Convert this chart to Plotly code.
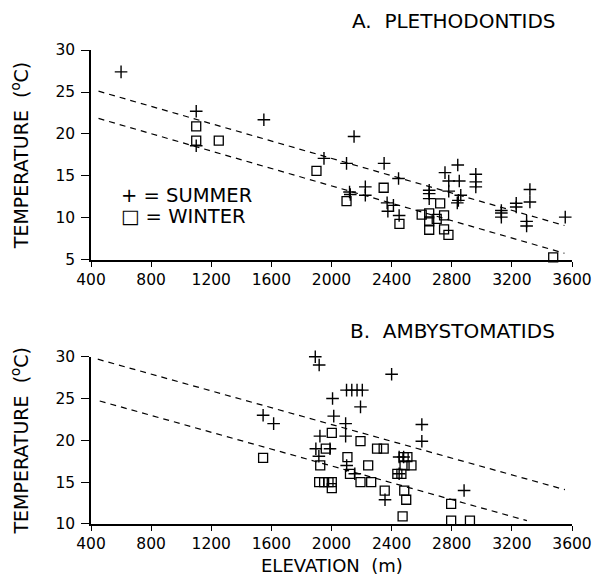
import plotly.graph_objects as go

# ---------------- data ----------------
# Panel A: Plethodontids
a_summer_elev = [600, 1100, 1100, 1550, 1950, 2100, 2150, 2120, 2125, 2225, 2225, 2350,
                 2370, 2412, 2375, 2446, 2450, 2650, 2650, 2650, 2755, 2780, 2780, 2840,
                 2850, 2860, 2844, 2837, 2960, 2960, 2960, 3130, 3130, 3130, 3229, 3229,
                 3320, 3320, 3298, 3298, 3555]
a_summer_temp = [27.4, 22.7, 18.6, 21.7, 17.1, 16.5, 19.7, 13.1, 12.8, 13.7, 12.7, 16.5,
                 11.8, 11.5, 10.8, 14.7, 10.3, 13.3, 12.9, 12.3, 15.4, 14.4, 13.2, 16.3,
                 14.4, 12.7, 12.1, 11.8, 15.2, 14.3, 13.7, 10.9, 10.6, 10.1, 11.75, 11.3,
                 13.4, 11.9, 9.6, 9.05, 10.1]
a_winter_elev = [1100, 1100, 1250, 1900, 2100, 2347, 2452, 2600, 2650, 2650, 2650, 2700,
                 2723, 2749, 2749, 2778, 3475]
a_winter_temp = [20.9, 19.2, 19.2, 15.6, 12.0, 13.6, 9.3, 10.4, 10.55, 9.6, 8.6, 9.9,
                 11.75, 10.3, 8.65, 8.0, 5.3]
a_fit_elev = [450, 3550]
a_fit_summer = [25.1, 9.1]
a_fit_winter = [21.85, 5.8]

# Panel B: Ambystomatids
b_summer_elev = [1545, 1615, 1892, 1918, 2007, 2015, 2094, 2094, 1923, 1896, 1990, 1916,
                 2101, 2155, 2100, 2135, 2170, 2205, 2193, 2400, 2601, 2601, 2882, 2356,
                 2450, 2480, 2450]
b_summer_temp = [23.0, 22.0, 30.0, 29.0, 25.0, 22.9, 22.0, 20.5, 20.5, 19.0, 19.0, 18.1,
                 17.0, 16.0, 26.0, 26.0, 26.0, 26.0, 24.0, 27.9, 21.9, 19.9, 14.0, 12.9,
                 18.0, 18.0, 16.0]
b_winter_elev = [1545, 2002, 2193, 2303, 2347, 1962, 2106, 2480, 2505, 1925, 2244, 2123,
                 2486, 2532, 2438, 2465, 1918, 1951, 1980, 2002, 2002, 2193, 2264, 2354,
                 2484, 2497, 2473, 2796, 2796, 2921]
b_winter_temp = [17.9, 20.9, 19.9, 19.0, 19.0, 19.0, 18.0, 18.0, 18.0, 17.0, 17.0, 16.0,
                 17.0, 17.0, 16.0, 16.0, 15.0, 15.0, 15.0, 15.0, 14.3, 15.0, 15.0, 14.0,
                 14.0, 12.9, 10.9, 12.4, 10.4, 10.4]
b_fit_elev_summer = [445, 3553]
b_fit_summer = [29.7, 14.1]
b_fit_elev_winter = [458, 3300]
b_fit_winter = [24.7, 10.4]

x_ticks = [400, 800, 1200, 1600, 2000, 2400, 2800, 3200, 3600]
a_y_ticks = [5, 10, 15, 20, 25, 30]
b_y_ticks = [10, 15, 20, 25, 30]

# ---------------- style ----------------
FONT = "DejaVu Sans"
plus_marker = dict(symbol="cross-thin-open", size=9, color="black",
                   line=dict(color="black", width=1.4))
square_marker = dict(symbol="square-open", size=9, color="black",
                     line=dict(color="black", width=1.3))
dash_line = dict(color="black", width=1.2, dash="6px,5px")

fig = go.Figure()

def add_panel(xa, ya, s_x, s_y, w_x, w_y, fits):
    for fx, fy in fits:
        fig.add_trace(go.Scatter(x=fx, y=fy, mode="lines", line=dash_line,
                                 xaxis=xa, yaxis=ya, showlegend=False, hoverinfo="skip"))
    fig.add_trace(go.Scatter(x=s_x, y=s_y, mode="markers", marker=plus_marker,
                             xaxis=xa, yaxis=ya, showlegend=False, cliponaxis=False,
                             name="SUMMER"))
    fig.add_trace(go.Scatter(x=w_x, y=w_y, mode="markers", marker=square_marker,
                             xaxis=xa, yaxis=ya, showlegend=False, cliponaxis=False,
                             name="WINTER"))

add_panel("x", "y", a_summer_elev, a_summer_temp, a_winter_elev, a_winter_temp,
          [(a_fit_elev, a_fit_summer), (a_fit_elev, a_fit_winter)])
add_panel("x2", "y2", b_summer_elev, b_summer_temp, b_winter_elev, b_winter_temp,
          [(b_fit_elev_summer, b_fit_summer), (b_fit_elev_winter, b_fit_winter)])

axis_common = dict(showline=True, linecolor="black", linewidth=1.5, showgrid=False,
                   zeroline=False, ticks="outside", tickcolor="black",
                   tickfont=dict(family=FONT, size=15.5, color="black"))

ytitle = dict(text="TEMPERATURE  (<sup>o</sup>C)",
              font=dict(family=FONT, size=19, color="black"), standoff=22)

# the page body has an 8px margin, so the figure is 8px smaller and margins shifted
fig.update_layout(
    width=598, height=572,
    margin=dict(l=79, r=34, t=42, b=56),
    paper_bgcolor="white", plot_bgcolor="white",
    showlegend=False,
    xaxis=dict(domain=[0, 1], range=[400, 3600], tickvals=x_ticks, ticklen=5,
               anchor="y", **axis_common),
    yaxis=dict(domain=[0.557, 1.0], range=[5, 30], tickvals=a_y_ticks, ticklen=8,
               ticklabelstandoff=3, anchor="x", title=ytitle, **axis_common),
    xaxis2=dict(domain=[0, 1], range=[400, 3600], tickvals=x_ticks, ticklen=5,
                anchor="y2", **axis_common),
    yaxis2=dict(domain=[0, 0.353], range=[10, 30], tickvals=b_y_ticks, ticklen=8,
                ticklabelstandoff=3, anchor="x2", title=ytitle, **axis_common),
)

fig.add_annotation(text="ELEVATION  (m)", xref="paper", yref="paper",
                   x=0.5, y=(524 - 565) / 474, showarrow=False,
                   font=dict(family=FONT, size=18, color="black"),
                   xanchor="center", yanchor="middle")

title_font = dict(family=FONT, size=20, color="black")
fig.add_annotation(text="A.  PLETHODONTIDS", xref="paper", yref="paper",
                   x=0.755, y=(524 - 21) / 474, showarrow=False, font=title_font,
                   xanchor="center", yanchor="middle")
fig.add_annotation(text="B.  AMBYSTOMATIDS", xref="paper", yref="paper",
                   x=0.752, y=0.407, showarrow=False, font=title_font,
                   xanchor="center", yanchor="middle")

legend_font = dict(family=FONT, size=19.5, color="black")
fig.add_annotation(text="+ = SUMMER", xref="paper", yref="paper",
                   x=0.058, y=(524 - 195) / 474, showarrow=False, font=legend_font,
                   xanchor="left", yanchor="middle")
fig.add_annotation(text="\u25a1 = WINTER", xref="paper", yref="paper",
                   x=0.058, y=(524 - 216) / 474, showarrow=False, font=legend_font,
                   xanchor="left", yanchor="middle")

fig.write_html("out.html")
